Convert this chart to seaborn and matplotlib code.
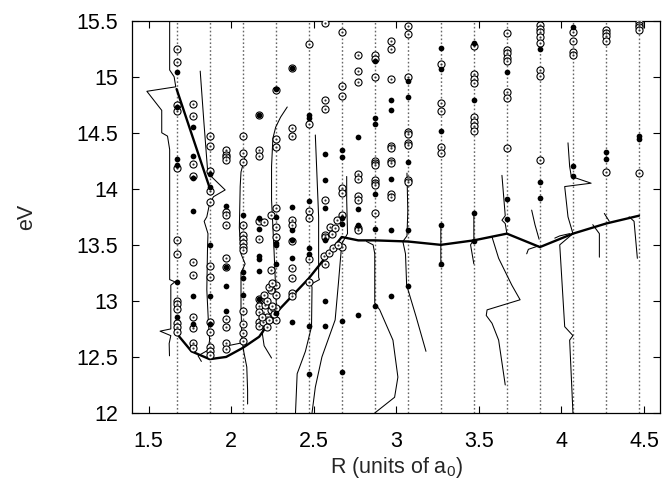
import numpy as np
import pandas as pd
import matplotlib
matplotlib.use("Agg")
import matplotlib.pyplot as plt
import seaborn as sns

# ---------------- data ----------------
grid_R = [1.67, 1.87, 2.07, 2.27, 2.47, 2.67, 2.87, 3.07, 3.27, 3.47, 3.67, 3.87, 4.07, 4.27, 4.47]
x_ticks = [1.5, 2.0, 2.5, 3.0, 3.5, 4.0, 4.5]
x_tick_labels = ["1.5", "2", "2.5", "3", "3.5", "4", "4.5"]
y_ticks = [12.0, 12.5, 13.0, 13.5, 14.0, 14.5, 15.0, 15.5]
y_tick_labels = ["12", "12.5", "13", "13.5", "14", "14.5", "15", "15.5"]

# open (dotted) circles and filled circles per R column
col_167_open = [15.25, 15.13, 14.75, 14.69, 14.19, 13.54, 13.42, 13.00, 12.97, 12.93, 12.80, 12.77, 12.72]
col_167_fill = [15.04, 14.73, 14.27, 14.21, 13.17, 12.86]
col_177_open = [14.76, 14.65, 14.22, 14.11, 13.35, 13.23, 12.86, 12.76, 12.62, 12.58]
col_177_fill = [14.55, 14.29, 14.10, 13.80, 13.04, 12.79]
col_187_open = [14.47, 14.38, 14.16, 13.98, 13.88, 13.31, 13.21, 12.81, 12.72, 12.59, 12.55, 12.52]
col_187_fill = [14.13, 14.02, 13.50, 13.04, 12.79]
col_197_open = [14.35, 14.30, 14.28, 14.26, 13.79, 13.77, 13.68, 13.38, 13.30, 12.84, 12.77, 12.62, 12.57]
col_197_fill = [13.85, 13.30, 13.13, 12.91]
col_207_open = [14.47, 14.32, 14.24, 13.68, 13.59, 13.55, 13.52, 13.48, 13.45, 12.91, 12.79, 12.71, 12.64]
col_207_fill = [13.77, 13.26, 13.20, 13.05]
col_217_open = [14.66, 14.35, 14.29, 13.71, 13.55, 13.02, 12.95, 12.90, 12.81, 12.78]
col_217_fill = [14.66, 13.74, 13.64, 13.40, 13.37, 13.27, 13.02]
col_227_open = [14.88, 14.44, 14.37, 13.83, 13.66, 13.57, 13.14, 13.05, 12.94, 12.83]
col_227_fill = [14.89, 13.75, 13.52, 13.50, 13.33, 12.89]
col_237_open = [15.08, 14.54, 14.47, 13.72, 13.68, 13.53, 13.29, 13.20, 13.07, 13.04]
col_237_fill = [15.08, 13.84, 13.63, 13.54, 13.38, 12.81]
col_247_open = [15.29, 14.58, 13.80, 13.74, 13.37, 13.17]
col_247_fill = [14.66, 14.63, 13.89, 13.47, 13.42, 12.78, 12.35]
col_257_open = [15.48, 14.79, 14.71, 13.90, 13.59, 13.57, 13.33]
col_257_fill = [14.31, 14.08, 13.83, 13.54, 13.00, 12.78]
col_267_open = [15.40, 14.92, 14.83, 14.01, 13.96, 13.77, 13.48]
col_267_fill = [14.35, 14.28, 13.74, 13.69, 12.82, 12.37]
col_277_open = [15.19, 15.05, 14.95, 14.13, 14.09, 13.94, 13.90, 13.65, 13.63]
col_277_fill = [14.46, 13.82, 13.68, 12.87]
col_287_open = [15.19, 15.16, 15.00, 14.25, 14.23, 14.21, 14.08, 14.05, 14.03, 13.78]
col_287_fill = [15.14, 14.63, 14.58, 13.95, 13.64, 12.95]
col_297_open = [15.32, 15.25, 14.98, 14.38, 14.36, 14.25, 14.23, 13.95, 13.93]
col_297_fill = [14.79, 14.70, 14.09, 13.63, 13.04]
col_307_open = [15.45, 15.38, 15.00, 14.51, 14.49, 14.41, 14.39, 14.08, 14.06]
col_307_fill = [14.96, 14.82, 14.24, 13.63, 13.13]
col_327_open = [15.11, 14.77, 14.69, 14.37, 14.32]
col_327_fill = [15.26, 15.07, 14.52, 13.68, 13.33]
col_347_open = [15.27, 15.02, 14.98, 14.94, 14.64, 14.60, 14.56, 14.52]
col_347_fill = [15.30, 14.79, 13.78, 13.53]
col_367_open = [15.39, 15.24, 15.21, 15.17, 15.14, 14.86, 14.81, 14.36]
col_367_fill = [15.04, 13.91, 13.73]
col_387_open = [15.46, 15.43, 15.40, 15.35, 15.30, 15.06, 15.01, 14.26]
col_387_fill = [15.25, 14.06, 13.92]
col_407_open = [15.40, 15.32, 15.22, 15.19]
col_407_fill = [15.44, 14.20, 14.11]
col_427_open = [15.42, 15.39, 15.36, 15.32, 14.15]
col_427_fill = [14.33, 14.27]
col_447_open = [15.49, 15.46, 15.44, 15.42, 14.14]
col_447_fill = [14.47, 14.44]

# open circles lying between the columns (dense cluster along the thick curve)
mid_open_R = [2.20, 2.24, 2.24, 2.24, 2.205, 2.24, 2.22, 2.196, 2.216, 2.20, 2.23, 2.25, 2.22,
              2.25, 2.19, 2.23, 2.26, 2.60, 2.64, 2.61, 2.63, 2.56, 2.59, 2.62, 2.65]
mid_open_E = [13.70, 13.77, 13.28, 13.10, 12.96, 12.92, 12.86, 12.81, 12.77, 13.05, 13.12, 13.16, 13.00,
              12.95, 12.86, 12.83, 12.88, 13.66, 13.72, 13.60, 13.65, 13.40, 13.43, 13.47, 13.50]

# thick curves
main_R = [1.67, 1.76, 1.87, 1.97, 2.07, 2.17, 2.27, 2.47, 2.67, 2.77, 2.87, 3.07, 3.27, 3.47, 3.67, 3.87, 4.07, 4.27, 4.47]
main_E = [12.71, 12.55, 12.48, 12.50, 12.58, 12.68, 12.89, 13.20, 13.57, 13.54, 13.54, 13.53, 13.50, 13.54, 13.60, 13.48, 13.60, 13.69, 13.76]
upper_R = [1.67, 1.87]
upper_E = [14.89, 14.01]

# thin curves
c1_R = [1.628, 1.628, 1.655, 1.665, 1.49, 1.58, 1.58, 1.615, 1.628, 1.628, 1.66, 1.635, 1.635, 1.57, 1.635, 1.625, 1.627]
c1_E = [15.5, 15.06, 15.0, 14.91, 14.87, 14.70, 14.50, 14.47, 14.35, 13.19, 13.17, 13.14, 12.75, 12.73, 12.69, 12.62, 12.51]
c2_R = [1.813, 1.835, 1.859, 1.894, 1.964, 1.894, 1.87, 1.853, 1.837, 1.86, 1.857, 1.853, 1.863, 1.87, 1.86, 1.80, 1.82]
c2_E = [15.05, 14.60, 14.14, 14.09, 13.99, 13.93, 13.87, 13.75, 13.71, 13.60, 13.45, 13.10, 12.80, 12.65, 12.56, 12.51, 12.46]
c3_R = [2.085, 2.06, 2.055, 2.05, 2.06, 2.085, 2.06, 2.06, 2.065, 2.075, 2.095, 2.10, 2.10]
c3_E = [14.29, 14.15, 14.02, 13.65, 13.42, 13.33, 13.25, 12.95, 12.68, 12.56, 12.41, 12.20, 12.08]
c3b_R = [1.975, 1.98, 2.08]
c3b_E = [12.64, 12.60, 12.63]
c4_R = [2.34, 2.30, 2.27, 2.253, 2.245, 2.245, 2.26, 2.27, 2.277, 2.27]
c4_E = [14.73, 14.64, 14.55, 14.45, 14.20, 13.90, 13.45, 13.10, 12.86, 12.80]
c4b_R = [2.20, 2.196, 2.19, 2.20, 2.245]
c4b_E = [12.90, 12.78, 12.70, 12.60, 12.49]
c6_R = [2.51, 2.53, 2.53, 2.535, 2.485, 2.49, 2.487, 2.45, 2.40, 2.39]
c6_E = [14.48, 13.75, 13.21, 13.19, 13.15, 13.12, 12.77, 12.55, 12.35, 12.00]
c7_R = [2.70, 2.70, 2.705, 2.67, 2.65, 2.63, 2.55, 2.51, 2.49]
c7_E = [14.11, 13.90, 13.60, 13.51, 13.16, 12.83, 12.50, 12.23, 12.00]
c9_R = [2.82, 2.86, 2.87, 2.87, 2.90, 2.98, 3.01, 2.99, 2.87]
c9_E = [13.53, 13.50, 13.42, 12.98, 12.92, 12.65, 12.32, 12.14, 12.00]
c10_R = [3.065, 3.07, 3.065, 3.04, 3.056, 3.063, 3.12, 3.18]
c10_E = [14.14, 13.80, 13.58, 13.53, 13.42, 13.14, 12.86, 12.55]
c11_R = [3.27, 3.27, 3.26]
c11_E = [13.68, 13.35, 13.31]
c14_R = [3.47, 3.47, 3.45, 3.47]
c14_E = [13.78, 13.55, 13.50, 13.33]
c15_R = [3.58, 3.62, 3.70, 3.75, 3.55, 3.545, 3.58, 3.62, 3.66]
c15_E = [13.57, 13.38, 13.14, 13.01, 12.92, 12.87, 12.80, 12.65, 12.25]
c16_R = [3.64, 3.66, 3.64, 3.66, 3.67]
c16_E = [14.12, 13.76, 13.72, 13.69, 13.60]
c17_R = [3.82, 3.84, 3.865]
c17_E = [13.81, 13.68, 13.55]
c17b_R = [3.79, 3.80, 3.86]
c17b_E = [13.42, 13.46, 13.49]
c18_R = [4.04, 4.05, 4.06, 4.18, 4.02, 4.04, 4.06, 4.07, 3.99, 4.02, 4.07, 4.05, 4.07]
c18_E = [14.41, 14.20, 14.11, 14.05, 14.02, 13.75, 13.65, 13.60, 13.50, 12.77, 12.69, 12.65, 12.00]
c18b_R = [3.96, 3.99, 4.05]
c18b_E = [13.56, 13.58, 13.60]
c19_R = [4.19, 4.23, 4.23]
c19_E = [13.68, 13.60, 13.39]
c20_R = [4.26, 4.29]
c20_E = [13.78, 13.71]
c21_R = [4.41, 4.44, 4.46]
c21_E = [13.75, 13.71, 13.38]

# ---------------- assemble ----------------
columns = [
    (1.67, col_167_open, col_167_fill), (1.77, col_177_open, col_177_fill),
    (1.87, col_187_open, col_187_fill), (1.97, col_197_open, col_197_fill),
    (2.07, col_207_open, col_207_fill), (2.17, col_217_open, col_217_fill),
    (2.27, col_227_open, col_227_fill), (2.37, col_237_open, col_237_fill),
    (2.47, col_247_open, col_247_fill), (2.57, col_257_open, col_257_fill),
    (2.67, col_267_open, col_267_fill), (2.77, col_277_open, col_277_fill),
    (2.87, col_287_open, col_287_fill), (2.97, col_297_open, col_297_fill),
    (3.07, col_307_open, col_307_fill), (3.27, col_327_open, col_327_fill),
    (3.47, col_347_open, col_347_fill), (3.67, col_367_open, col_367_fill),
    (3.87, col_387_open, col_387_fill), (4.07, col_407_open, col_407_fill),
    (4.27, col_427_open, col_427_fill), (4.47, col_447_open, col_447_fill),
]
open_R, open_E, fill_R, fill_E = [], [], [], []
for r, o, f in columns:
    open_R += [r] * len(o)
    open_E += o
    fill_R += [r] * len(f)
    fill_E += f
open_R += mid_open_R
open_E += mid_open_E
open_df = pd.DataFrame({"R": open_R, "E": open_E})
fill_df = pd.DataFrame({"R": fill_R, "E": fill_E})

thin_curves = [(c1_R, c1_E), (c2_R, c2_E), (c3_R, c3_E), (c3b_R, c3b_E), (c4_R, c4_E),
               (c4b_R, c4b_E), (c6_R, c6_E), (c7_R, c7_E), (c9_R, c9_E), (c10_R, c10_E),
               (c11_R, c11_E), (c14_R, c14_E), (c15_R, c15_E), (c16_R, c16_E), (c17_R, c17_E),
               (c17b_R, c17b_E), (c18_R, c18_E), (c18b_R, c18b_E), (c19_R, c19_E),
               (c20_R, c20_E), (c21_R, c21_E)]

# ---------------- plot ----------------
sns.set_style("ticks")
plt.rcParams["font.family"] = ["Liberation Sans", "DejaVu Sans"]
plt.rcParams["mathtext.fontset"] = "custom"
plt.rcParams["mathtext.rm"] = "Liberation Sans"
plt.rcParams["mathtext.it"] = "Liberation Sans"

fig = plt.figure(figsize=(6.64, 4.82), dpi=100)
ax = fig.add_axes([0.1988, 0.1432, 0.7959, 0.8139])

for r in grid_R:
    ax.axvline(r, color="#666666", lw=1.0, ls=(0, (1.2, 1.6)), zorder=0)

for xr, ye in thin_curves:
    sns.lineplot(x=xr, y=ye, sort=False, estimator=None, color="black", lw=0.75, ax=ax, zorder=2)

sns.lineplot(x=main_R, y=main_E, sort=False, estimator=None, color="black", lw=1.7, ax=ax, zorder=3)
sns.lineplot(x=upper_R, y=upper_E, sort=False, estimator=None, color="black", lw=1.7, ax=ax, zorder=3)

sns.scatterplot(data=open_df, x="R", y="E", marker="o", s=26, facecolor="white",
                edgecolor="black", linewidth=0.8, ax=ax, zorder=4, legend=False)
sns.scatterplot(data=open_df, x="R", y="E", marker="o", s=2.5, color="#333333",
                linewidth=0, ax=ax, zorder=5, legend=False)
sns.scatterplot(data=fill_df, x="R", y="E", marker="o", s=17, color="black",
                linewidth=0, ax=ax, zorder=6, legend=False)

ax.set_xlim(1.4, 4.6)
ax.set_ylim(12.0, 15.5)
ax.set_xticks(x_ticks)
ax.set_xticklabels(x_tick_labels)
ax.set_yticks(y_ticks)
ax.set_yticklabels(y_tick_labels)
ax.tick_params(axis="both", direction="in", length=5, width=0.8, top=True, right=True,
               labelsize=15.5, colors="black")
ax.tick_params(axis="x", pad=13)
ax.tick_params(axis="y", pad=10)
for sp in ax.spines.values():
    sp.set_visible(True)
    sp.set_linewidth(0.9)
    sp.set_color("black")

ax.set_xlabel(r"R (units of a$_0$)", fontsize=15.5, labelpad=2)
ax.set_ylabel("eV", fontsize=15.5, labelpad=28)

fig.savefig("out.png", dpi=100)
